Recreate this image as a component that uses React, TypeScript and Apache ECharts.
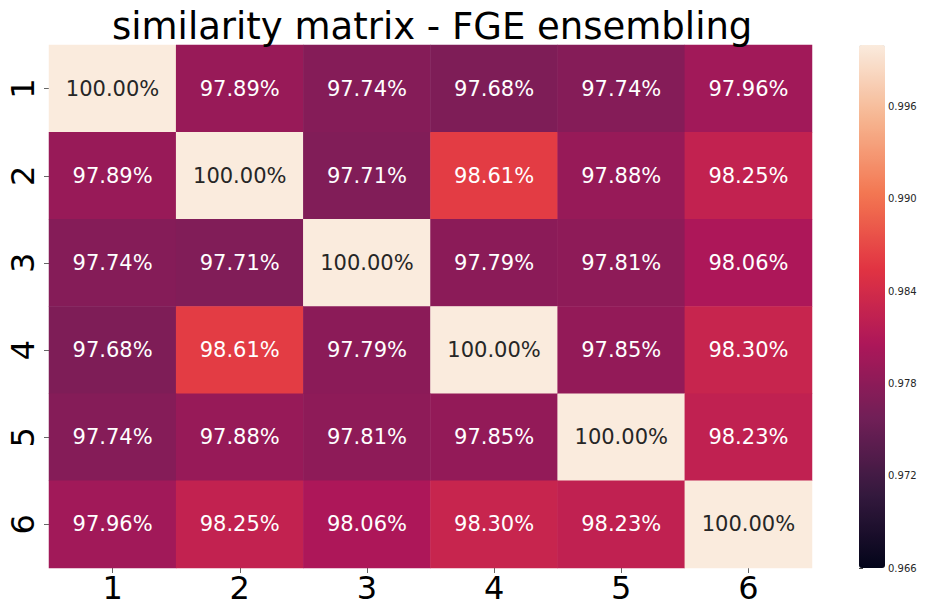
import React, { useEffect, useRef } from "react";
import * as echarts from "echarts";

const labels = ["1", "2", "3", "4", "5", "6"];
const row1 = [1.0, 0.9789, 0.9774, 0.9768, 0.9774, 0.9796];
const row2 = [0.9789, 1.0, 0.9771, 0.9861, 0.9788, 0.9825];
const row3 = [0.9774, 0.9771, 1.0, 0.9779, 0.9781, 0.9806];
const row4 = [0.9768, 0.9861, 0.9779, 1.0, 0.9785, 0.983];
const row5 = [0.9774, 0.9788, 0.9781, 0.9785, 1.0, 0.9823];
const row6 = [0.9796, 0.9825, 0.9806, 0.983, 0.9823, 1.0];
const rows = [row1, row2, row3, row4, row5, row6];
const colorbarTicks = [0.966, 0.972, 0.978, 0.984, 0.99, 0.996];
const vmin = 0.966;
const vmax = 1.0;
const rocket = ["#03051A", "#35193E", "#701F57", "#AD1759", "#E13342", "#F37651", "#F6B48F", "#FAEBDD"];

export default function App() {
  const ref = useRef<HTMLDivElement>(null);
  useEffect(() => {
    document.body.style.margin = "0";
    const chart = echarts.init(ref.current!, undefined, { renderer: "svg" });
    const data: any[] = [];
    rows.forEach((r, yi) =>
      r.forEach((v, xi) => {
        data.push({
          value: [xi, yi, v],
          label: { color: v > 0.995 ? "#262626" : "#ffffff" },
        });
      })
    );
    const font = "DejaVu Sans";
    chart.setOption({
      animation: false,
      title: {
        text: "similarity matrix - FGE ensembling",
        left: 107,
        top: 3,
        textStyle: { fontFamily: font, fontSize: 37, fontWeight: "normal", color: "#000" },
      },
      grid: [
        { left: 49, top: 45, right: 114, bottom: 38 },
        { left: 859, top: 45, width: 26, height: 523 },
      ],
      xAxis: [
        {
          type: "category",
          data: labels,
          gridIndex: 0,
          axisLine: { show: false },
          axisTick: { show: true, alignWithLabel: true, length: 5, lineStyle: { color: "#666" } },
          axisLabel: { fontFamily: font, fontSize: 32, lineHeight: 30, color: "#000", margin: 5 },
          splitLine: { show: false },
        },
        { type: "value", gridIndex: 1, show: false, min: 0, max: 1 },
      ],
      yAxis: [
        {
          type: "category",
          data: labels,
          inverse: true,
          gridIndex: 0,
          axisLine: { show: false },
          axisTick: { show: true, alignWithLabel: true, length: 5, lineStyle: { color: "#666" } },
          axisLabel: { fontFamily: font, fontSize: 32, color: "#000", rotate: 90, margin: 10 },
          splitLine: { show: false },
        },
        {
          type: "value",
          gridIndex: 1,
          min: vmin,
          max: vmax,
          position: "right",
          axisLine: { show: false },
          splitLine: { show: false },
          axisTick: { show: true, length: 4, customValues: colorbarTicks, lineStyle: { color: "#444" } },
          axisLabel: {
            show: true,
            customValues: colorbarTicks,
            fontFamily: font,
            fontSize: 10,
            color: "#262626",
            margin: 3,
            formatter: (v: number) => v.toFixed(3),
          },
        },
      ],
      visualMap: {
        type: "continuous",
        min: vmin,
        max: vmax,
        seriesIndex: 0,
        orient: "vertical",
        left: 859,
        top: 45,
        itemWidth: 26,
        itemHeight: 523,
        padding: 0,
        calculable: false,
        inRange: { color: rocket },
        textStyle: { color: "transparent" },
      },
      series: [
        {
          type: "heatmap",
          xAxisIndex: 0,
          yAxisIndex: 0,
          data,
          itemStyle: { borderWidth: 0 },
          label: {
            show: true,
            fontFamily: font,
            fontSize: 21,
            formatter: (p: any) => (p.value[2] * 100).toFixed(2) + "%",
          },
          emphasis: { disabled: true },
        },
      ],
    });
    return () => chart.dispose();
  }, []);
  return <div ref={ref} style={{ width: 926, height: 606 }} />;
}
